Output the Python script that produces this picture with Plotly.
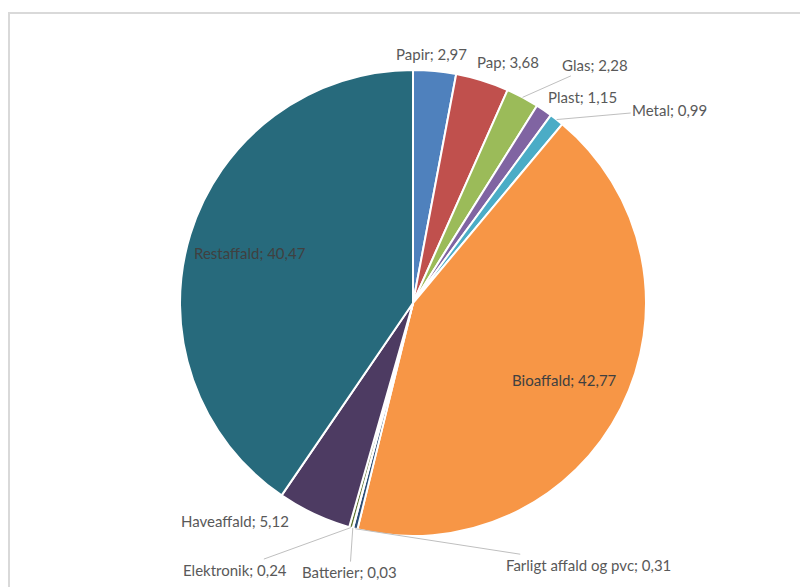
import math
import plotly.graph_objects as go

labels = ["Papir", "Pap", "Glas", "Plast", "Metal", "Bioaffald",
          "Farligt affald og pvc", "Batterier", "Elektronik", "Haveaffald", "Restaffald"]
values = [2.97, 3.68, 2.28, 1.15, 0.99, 42.77, 0.31, 0.03, 0.24, 5.12, 40.47]
colors = ["#4F81BD", "#C0504D", "#9BBB59", "#8064A2", "#4BACC6", "#F79646",
          "#2C4D75", "#772C2A", "#5F7530", "#4D3B62", "#276A7C"]

# page body has an 8px margin, so the figure is 800x579 inside the 808x587 window
W, H = 800, 579
cx, cy, R = 405, 295, 233
FONT = "Lato, Open Sans, sans-serif"

# label placement: None = inside the slice, otherwise (dx, dy, leader line) from the rim
label_pos = {
    "Papir": (-3, -17, False),
    "Pap": (26, -19, False),
    "Glas": (72, -32, True),
    "Plast": (38, -13, False),
    "Metal": (113, -10, True),
    "Bioaffald": None,
    "Farligt affald og pvc": (233, 36, True),
    "Batterier": (-3, 44, True),
    "Elektronik": (-116, 42, True),
    "Haveaffald": (-79, 7, False),
    "Restaffald": None,
}

fig = go.Figure(go.Pie(
    labels=labels, values=values, sort=False, direction="clockwise",
    marker=dict(colors=colors, line=dict(color="white", width=2)),
    textinfo="none", hoverinfo="label+value", showlegend=False,
    domain=dict(x=[(cx - R) / W, (cx + R) / W], y=[(H - cy - R) / H, (H - cy + R) / H]),
))

total = sum(values)
cum = 0
for lab, v in zip(labels, values):
    mid = (cum + v / 2) / total * 2 * math.pi
    cum += v
    txt = f"{lab}; {v:.2f}".replace(".", ",")
    pos = label_pos[lab]
    if pos is None:
        px = cx + 0.73 * R * math.sin(mid)
        py = cy - 0.73 * R * math.cos(mid)
        fig.add_annotation(x=px / W, y=1 - py / H, xref="paper", yref="paper", text=txt,
                           showarrow=False, xanchor="center", yanchor="middle",
                           font=dict(family=FONT, size=15, color="#404040"))
        continue
    rx = cx + R * math.sin(mid)
    ry = cy - R * math.cos(mid)
    dx, dy, line = pos
    if line:
        fig.add_annotation(x=rx / W, y=1 - ry / H, xref="paper", yref="paper", text=txt,
                           showarrow=True, ax=dx, ay=dy, arrowhead=0, arrowwidth=1,
                           arrowcolor="#BFBFBF", standoff=0,
                           font=dict(family=FONT, size=15, color="#595959"))
    else:
        fig.add_annotation(x=(rx + dx) / W, y=1 - (ry + dy) / H, xref="paper", yref="paper",
                           text=txt, showarrow=False, xanchor="center", yanchor="middle",
                           font=dict(family=FONT, size=15, color="#595959"))

fig.add_shape(type="rect", xref="paper", yref="paper",
              x0=1 / W, x1=1.05, y0=-0.05, y1=1 - 5 / H,
              line=dict(color="#D9D9D9", width=2))

fig.update_layout(width=W, height=H, margin=dict(l=0, r=0, t=0, b=0),
                  paper_bgcolor="white", plot_bgcolor="white")
fig.write_html("out.html")
